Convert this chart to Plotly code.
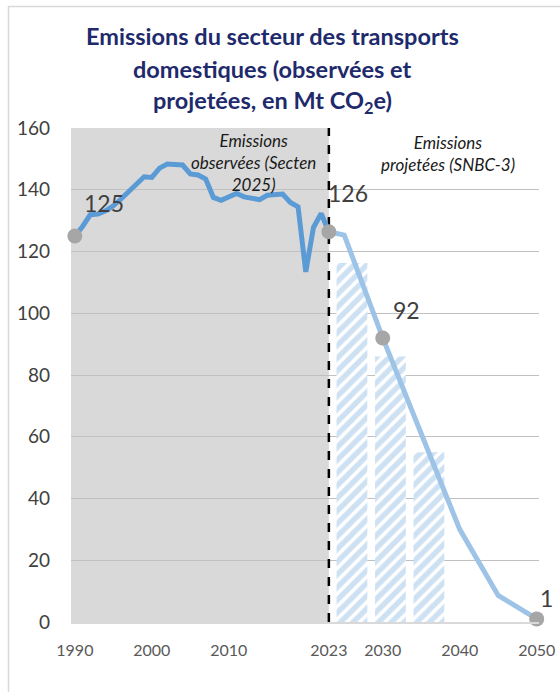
import plotly.graph_objects as go

# ---------------- data ----------------
obs_years = list(range(1990, 2024))
obs_values = [125.0, 128.1, 131.9, 132.1, 133.2, 134.8, 137.0, 139.4, 141.8, 144.2,
              144.0, 147.0, 148.3, 148.0, 148.0, 145.1, 144.8, 143.5, 137.5, 136.6,
              137.7, 138.8, 137.7, 137.1, 136.8, 138.2, 138.6, 138.6, 135.9, 134.5,
              113.4, 127.8, 132.3, 126.4]

proj_years = [2023, 2025, 2030, 2035, 2040, 2045, 2050]
proj_values = [126.4, 125.3, 92.0, 61.0, 30.0, 8.6, 1.0]

budget_centers = [2026, 2031, 2036]
budget_values = [116.3, 86.0, 55.0]

marker_years = [1990, 2023, 2030, 2050]
marker_values = [125.0, 126.4, 92.0, 1.0]
marker_labels = ["125", "126", "92", "1"]

x_tickvals = [1990, 2000, 2010, 2023, 2030, 2040, 2050]
y_tickvals = [0, 20, 40, 60, 80, 100, 120, 140, 160]

# ---------------- styling ----------------
FONT = "Lato"
NAVY = "#1E2A6C"
OBS_COLOR = "#5B9BD5"
PROJ_COLOR = "#9DC3E6"

OFF = 0  # page body margin removed via post_script
W, H = 560, 692
ML, MR, MT, MB = 71, 21, 128, 70
PW, PH = W - ML - MR, H - MT - MB


def px_x(screen):
    return (screen - OFF - ML) / PW


def px_y(screen):
    return (H - MB - (screen - OFF)) / PH


fig = go.Figure()

fig.add_trace(go.Bar(
    x=budget_centers, y=budget_values, width=[4, 4, 4],
    marker=dict(color="white", line=dict(width=0),
                pattern=dict(shape="/", fgcolor=PROJ_COLOR, bgcolor="white",
                             size=9, solidity=0.6)),
    hoverinfo="skip", showlegend=False,
))

fig.add_trace(go.Scatter(
    x=obs_years, y=obs_values, mode="lines",
    line=dict(color=OBS_COLOR, width=5), showlegend=False,
))

fig.add_trace(go.Scatter(
    x=proj_years, y=proj_values, mode="lines",
    line=dict(color=PROJ_COLOR, width=5), showlegend=False,
))

fig.add_trace(go.Scatter(
    x=marker_years, y=marker_values, mode="markers",
    marker=dict(color="#A6A6A6", size=15, line=dict(width=0)),
    cliponaxis=False, showlegend=False,
))

# data labels
label_shifts = [(29, 33), (19, 39), (24, 28), (10, 21)]
for xv, yv, lab, (dx, dy) in zip(marker_years, marker_values, marker_labels, label_shifts):
    fig.add_annotation(x=xv, y=yv, text=lab, showarrow=False,
                       xshift=dx, yshift=dy,
                       font=dict(family=FONT, size=23, color="#404040"))

# shaded observed period
fig.add_shape(type="rect", xref="x", yref="y", x0=1989.5, x1=2023,
              y0=0, y1=160, line=dict(width=0), fillcolor="#D9D9D9", layer="below")

# dashed separator
fig.add_shape(type="line", xref="x", yref="y", x0=2023, x1=2023, y0=0, y1=160,
              line=dict(color="black", width=2.5, dash="dash"), layer="between")

# outer frame
fig.add_shape(type="rect", xref="paper", yref="paper",
              x0=px_x(8.5), x1=px_x(575), y0=px_y(710), y1=px_y(6.5),
              line=dict(color="#D9D9D9", width=1.5), fillcolor="rgba(0,0,0,0)",
              layer="below")

# italic section notes
fig.add_annotation(x=2013.15, y=148.7, xref="x", yref="y", showarrow=False,
                   text="<i>Emissions<br>observées (Secten<br>2025)</i>",
                   font=dict(family=FONT, size=17, color="#1a1a1a"), align="center")
fig.add_annotation(x=2038.5, y=151.8, xref="x", yref="y", showarrow=False,
                   text="<i>Emissions<br>projetées (SNBC-3)</i>",
                   font=dict(family=FONT, size=17, color="#1a1a1a"), align="center")

# title (three lines)
title_lines = ["<b>Emissions du secteur des transports</b>",
               "<b>domestiques (observées et</b>",
               "<b>projetées, en Mt CO<sub>2</sub>e)</b>"]
title_y = [36, 69, 102]
for t, yy in zip(title_lines, title_y):
    fig.add_annotation(xref="paper", yref="paper", x=px_x(272), y=px_y(yy),
                       text=t, showarrow=False, xanchor="center", yanchor="middle",
                       font=dict(family=FONT, size=23.5, color=NAVY))

fig.update_layout(
    width=W, height=H,
    margin=dict(l=ML, r=MR, t=MT, b=MB, pad=0, autoexpand=False),
    paper_bgcolor="white", plot_bgcolor="white",
    showlegend=False,
    font=dict(family=FONT),
)

fig.update_xaxes(
    range=[1989.5, 2050.3], tickmode="array", tickvals=x_tickvals,
    ticktext=[str(v) for v in x_tickvals],
    showgrid=False, zeroline=False, automargin=False,
    showline=True, linecolor="#D9D9D9", linewidth=1.5,
    ticks="", ticklabelstandoff=13, ticklabeloverflow="allow",
    tickfont=dict(family=FONT, size=16, color="#595959"),
)
fig.update_yaxes(
    range=[0, 160], tickmode="array", tickvals=y_tickvals,
    showgrid=True, gridcolor="#C0C0C0", gridwidth=1.3,
    zeroline=False, showline=False, automargin=False,
    ticks="", ticklabelstandoff=20,
    tickfont=dict(family=FONT, size=19, color="#404040"),
)

fig.write_html(
    "out.html",
    config={"displayModeBar": False},
    post_script="document.body.style.margin='0';document.body.style.overflow='hidden';",
)
